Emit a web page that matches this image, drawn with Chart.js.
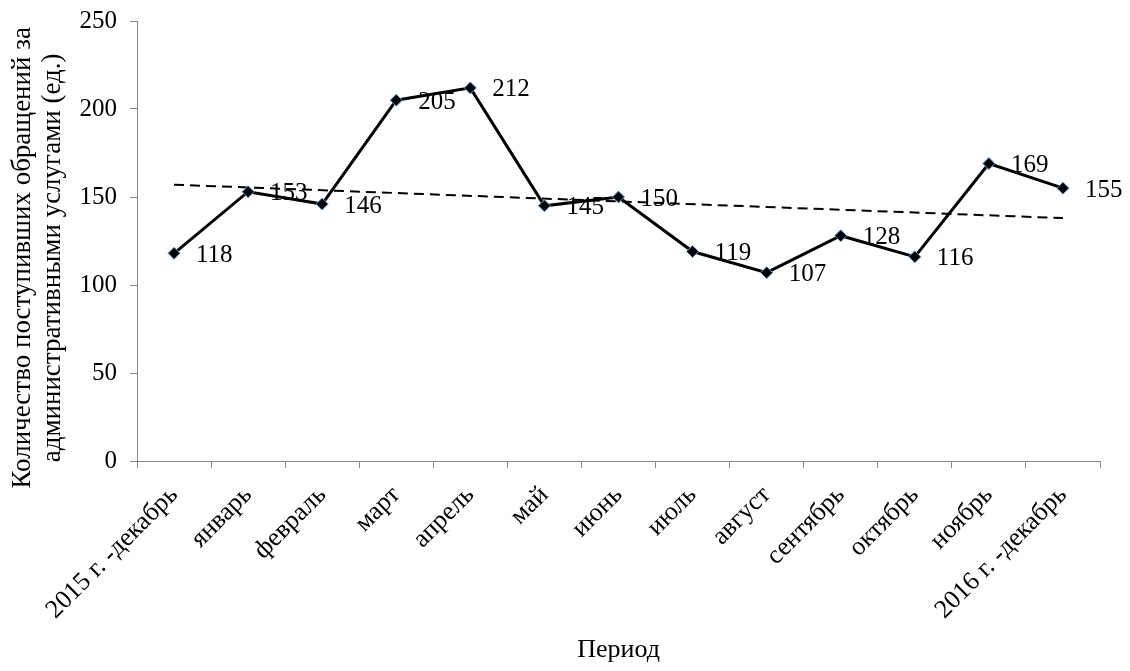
<!DOCTYPE html>
<html lang="ru">
<head>
<meta charset="utf-8">
<title>Обращения за административными услугами</title>
<script src="https://cdn.jsdelivr.net/npm/chart.js@4.4.1/dist/chart.umd.min.js"></script>
<style>
    html, body { margin: 0; padding: 0; background: #fff; }
    #wrap { width: 1130px; height: 671px; }
</style>
</head>
<body>
<div id="wrap"><canvas id="chart" width="1130" height="671"></canvas></div>
<script>
// données
const periods = ['2015 г. -декабрь', 'январь', 'февраль', 'март', 'апрель', 'май', 'июнь',
    'июль', 'август', 'сентябрь', 'октябрь', 'ноябрь', '2016 г. -декабрь'];
const requests = [118, 153, 146, 205, 212, 145, 150, 119, 107, 128, 116, 169, 155];
// ligne de tendance : seulement les deux extrémités
const trend = [157, null, null, null, null, null, null, null, null, null, null, null, 138];
const yTicks = [0, 50, 100, 150, 200, 250];

const serif = "'Liberation Serif', 'Times New Roman', serif";
const axisGray = '#868686';
const pad = '\u00a0\u00a0\u00a0\u00a0\u00a0'; // décale le titre vers le bas comme dans l'original

// étiquettes de valeurs à droite des points
const valueLabels = {
    id: 'valueLabels',
    afterDatasetsDraw(chart) {
        const ctx = chart.ctx;
        const meta = chart.getDatasetMeta(1);
        ctx.save();
        ctx.font = '25px ' + serif;
        ctx.fillStyle = '#000';
        ctx.textAlign = 'left';
        ctx.textBaseline = 'middle';
        meta.data.forEach((pt, i) => {
            ctx.fillText(String(requests[i]), pt.x + 22, pt.y + 2);
        });
        ctx.restore();
    }
};

const ctx = document.getElementById('chart').getContext('2d');
new Chart(ctx, {
    type: 'line',
    data: {
        labels: periods,
        datasets: [{
            label: 'Тренд',
            data: trend,
            spanGaps: true,
            borderColor: '#000',
            borderWidth: 2,
            borderDash: [10, 6],
            pointRadius: 0,
            fill: false,
            order: 2
        }, {
            label: 'Обращения',
            data: requests,
            borderColor: '#000',
            borderWidth: 3,
            tension: 0,
            pointStyle: 'rectRot',
            pointRadius: 6,
            pointBackgroundColor: '#000',
            pointBorderColor: '#5b9bd5',
            pointBorderWidth: 1,
            fill: false,
            order: 1
        }]
    },
    options: {
        responsive: false,
        animation: false,
        layout: { padding: { top: 21, right: 30, left: 0, bottom: 0 } },
        plugins: {
            legend: { display: false },
            tooltip: { enabled: false }
        },
        scales: {
            x: {
                offset: true,
                grid: {
                    offset: true,
                    drawOnChartArea: false,
                    color: axisGray,
                    tickLength: 7
                },
                border: { color: axisGray, width: 1 },
                ticks: {
                    autoSkip: false,
                    maxRotation: 45,
                    minRotation: 45,
                    padding: 12,
                    color: '#000',
                    font: { family: serif, size: 26 }
                },
                title: {
                    display: true,
                    text: 'Период',
                    color: '#000',
                    font: { family: serif, size: 26 },
                    padding: { top: 0, bottom: 5 }
                },
                afterFit(scale) { scale.height = 210; }
            },
            y: {
                min: 0,
                max: 250,
                afterBuildTicks(scale) { scale.ticks = yTicks.map(v => ({ value: v })); },
                grid: {
                    drawOnChartArea: false,
                    color: axisGray,
                    tickLength: 7
                },
                border: { color: axisGray, width: 1 },
                ticks: {
                    padding: 13,
                    color: '#000',
                    font: { family: serif, size: 25 }
                },
                title: {
                    display: true,
                    text: ['Количество поступивших обращений за' + pad, 'административными услугами (ед.)' + pad],
                    color: '#000',
                    font: { family: serif, size: 27, lineHeight: 1.1 },
                    padding: { top: 8, bottom: 0 }
                },
                afterFit(scale) {
                    scale.width = 137;
                    scale.paddingTop = 0;
                    scale.paddingBottom = 0;
                }
            }
        }
    },
    plugins: [valueLabels]
});
</script>
</body>
</html>
